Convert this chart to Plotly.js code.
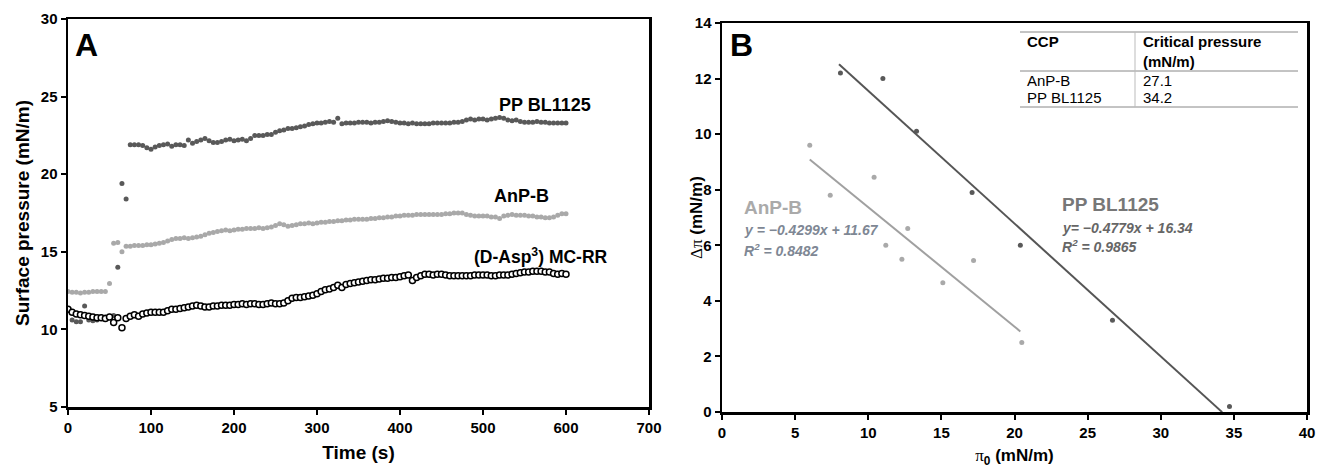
<!DOCTYPE html>
<html>
<head>
<meta charset="utf-8">
<script src="https://cdn.plot.ly/plotly-3.0.1.min.js"></script>
<style>html,body{margin:0;padding:0;background:#fff;}#chart{width:1323px;height:470px;}</style>
</head>
<body>
<div id="chart"></div>
<script>
// ---------- Panel A data ----------
var timeS = [
  0,5,10,15,20,25,30,35,40,45,
  50,55,60,65,70,75,80,85,90,95,
  100,105,110,115,120,125,130,135,140,145,
  150,155,160,165,170,175,180,185,190,195,
  200,205,210,215,220,225,230,235,240,245,
  250,255,260,265,270,275,280,285,290,295,
  300,305,310,315,320,325,330,335,340,345,
  350,355,360,365,370,375,380,385,390,395,
  400,405,410,415,420,425,430,435,440,445,
  450,455,460,465,470,475,480,485,490,495,
  500,505,510,515,520,525,530,535,540,545,
  550,555,560,565,570,575,580,585,590,595,
  600
];
var ppBL1125 = [
  11.3,10.6,10.5,10.5,11.5,10.6,10.55,10.6,10.8,10.8,
  10.85,10.9,14.0,19.4,18.4,21.9,21.9,21.9,21.85,21.7,
  21.6,21.75,21.85,21.9,21.95,21.8,21.9,21.9,21.85,22.2,
  22.0,22.1,22.2,22.3,22.15,22.05,22.05,22.1,22.2,22.25,
  22.15,22.2,22.25,22.15,22.3,22.5,22.5,22.5,22.55,22.55,
  22.7,22.8,22.85,22.95,22.95,23.0,23.05,23.1,23.2,23.25,
  23.3,23.3,23.35,23.4,23.35,23.6,23.25,23.3,23.3,23.3,
  23.35,23.35,23.35,23.3,23.35,23.35,23.4,23.45,23.4,23.35,
  23.3,23.3,23.25,23.3,23.25,23.25,23.25,23.25,23.3,23.3,
  23.3,23.3,23.3,23.35,23.35,23.4,23.5,23.55,23.5,23.55,
  23.55,23.5,23.55,23.6,23.65,23.6,23.5,23.45,23.5,23.4,
  23.35,23.35,23.35,23.4,23.35,23.35,23.3,23.3,23.3,23.3,
  23.3
];
var anpB = [
  12.45,12.4,12.4,12.35,12.4,12.4,12.45,12.45,12.45,12.45,
  12.95,15.55,15.6,15.0,15.35,15.35,15.4,15.4,15.4,15.45,
  15.45,15.5,15.55,15.6,15.7,15.8,15.85,15.85,15.9,15.85,
  15.9,15.95,16.0,16.1,16.2,16.25,16.3,16.35,16.4,16.35,
  16.4,16.45,16.45,16.5,16.5,16.5,16.55,16.5,16.55,16.6,
  16.7,16.8,16.75,16.65,16.7,16.75,16.8,16.8,16.85,16.8,
  16.85,16.9,16.9,16.95,16.95,17.0,17.0,17.05,17.05,17.1,
  17.1,17.1,17.1,17.15,17.15,17.2,17.2,17.25,17.25,17.3,
  17.3,17.35,17.35,17.35,17.4,17.4,17.4,17.4,17.4,17.4,
  17.4,17.45,17.45,17.5,17.5,17.5,17.4,17.35,17.3,17.3,
  17.3,17.3,17.25,17.25,17.15,17.3,17.35,17.4,17.35,17.35,
  17.35,17.3,17.3,17.25,17.25,17.2,17.2,17.25,17.35,17.45,
  17.45
];
var mcRR = [
  11.3,11.1,11.0,10.95,10.9,10.85,10.8,10.75,10.75,10.7,
  10.8,10.45,10.75,10.1,10.7,10.85,10.95,10.85,11.0,11.05,
  11.1,11.1,11.1,11.1,11.2,11.3,11.3,11.35,11.4,11.45,
  11.5,11.55,11.5,11.45,11.45,11.5,11.5,11.55,11.55,11.55,
  11.6,11.6,11.65,11.6,11.65,11.65,11.6,11.6,11.65,11.7,
  11.65,11.65,11.7,11.85,12.0,12.05,12.05,12.1,12.15,12.2,
  12.3,12.45,12.55,12.6,12.7,12.85,12.7,12.9,12.95,13.0,
  13.05,13.1,13.15,13.2,13.2,13.25,13.3,13.3,13.35,13.35,
  13.4,13.45,13.5,13.15,13.35,13.45,13.55,13.55,13.5,13.55,
  13.55,13.5,13.45,13.45,13.45,13.45,13.45,13.45,13.5,13.5,
  13.5,13.5,13.45,13.45,13.5,13.5,13.5,13.55,13.6,13.65,
  13.7,13.7,13.75,13.75,13.75,13.7,13.7,13.6,13.55,13.6,
  13.55
];
var seriesNamesA = ["PP BL1125", "AnP-B", "(D-Asp<sup>3</sup>) MC-RR"];
var xTicksA = [0,100,200,300,400,500,600,700];
var yTicksA = [5,10,15,20,25,30];

// ---------- Panel B data ----------
var pi0PP   = [8.1, 11.0, 13.3, 17.1, 20.4, 26.7, 34.7];
var dPiPP   = [12.2, 12.0, 10.1, 7.9, 6.0, 3.3, 0.2];
var pi0AnP  = [6.0, 7.4, 10.4, 12.7, 11.2, 12.3, 15.1, 17.2, 20.5];
var dPiAnP  = [9.6, 7.8, 8.45, 6.6, 6.0, 5.5, 4.65, 5.45, 2.5];
var fitAnP  = {slope: -0.4299, intercept: 11.67, xStart: 6.0, xEnd: 20.4};
var fitPP   = {slope: -0.4779, intercept: 16.34, xStart: 8.0, xEnd: 34.2};
var eqAnP   = ["y = \u22120.4299x + 11.67", "R<sup>2</sup> = 0.8482"];
var eqPP    = ["y= \u22120.4779x + 16.34", "R<sup>2</sup> = 0.9865"];
var tableHeader = ["CCP", "Critical pressure<br>(mN/m)"];
var tableCCP = ["AnP-B", "PP BL1125"];
var tableCritical = ["27.1", "34.2"];
var xTicksB = [0,5,10,15,20,25,30,35,40];
var yTicksB = [0,2,4,6,8,10,12,14];

// ---------- helpers ----------
var W = 1323, H = 470;
function px(x){ return x / W; }
function py(y){ return 1 - y / H; }
function fitLine(f){ return {x:[f.xStart, f.xEnd], y:[f.slope*f.xStart+f.intercept, f.slope*f.xEnd+f.intercept]}; }

var FONT = "Arial, 'Liberation Sans', sans-serif";
var darkGrey = "#595959", lightGrey = "#a9a9a9";

var traces = [
  {x: timeS, y: ppBL1125, type:"scatter", mode:"markers", xaxis:"x", yaxis:"y",
   marker:{size:5, color:darkGrey}, name:seriesNamesA[0]},
  {x: timeS, y: anpB, type:"scatter", mode:"markers", xaxis:"x", yaxis:"y",
   marker:{size:5, color:lightGrey}, name:seriesNamesA[1]},
  {x: timeS, y: mcRR, type:"scatter", mode:"markers", xaxis:"x", yaxis:"y",
   marker:{size:6, color:"#ffffff", symbol:"circle", line:{color:"#000000", width:1.5}}, name:seriesNamesA[2]},
  {x: pi0AnP, y: dPiAnP, type:"scatter", mode:"markers", xaxis:"x2", yaxis:"y2",
   marker:{size:5, color:lightGrey}, name:"AnP-B"},
  {x: pi0PP, y: dPiPP, type:"scatter", mode:"markers", xaxis:"x2", yaxis:"y2",
   marker:{size:5, color:darkGrey}, name:"PP BL1125"},
  Object.assign({type:"scatter", mode:"lines", xaxis:"x2", yaxis:"y2",
   line:{color:"#a0a0a0", width:2}, name:"AnP-B fit"}, fitLine(fitAnP)),
  Object.assign({type:"scatter", mode:"lines", xaxis:"x2", yaxis:"y2",
   line:{color:"#555555", width:2}, name:"PP BL1125 fit"}, fitLine(fitPP))
];

function axisCommon(){
  return {showline:true, linecolor:"#000", linewidth:2.5, mirror:true, ticks:"outside",
    ticklen:5, tickwidth:2, tickcolor:"#000", showgrid:false, zeroline:false,
    tickfont:{family:FONT, size:15, color:"#000", weight:"bold"}, fixedrange:true};
}

var xa = Object.assign(axisCommon(), {domain:[px(68), px(649)], range:[0,700], tickvals:xTicksA, anchor:"y",
  title:{text:"Time (s)", font:{family:FONT, size:19, color:"#000", weight:"bold"}, standoff:11}});
var ya = Object.assign(axisCommon(), {domain:[py(407), py(19)], range:[5,30], tickvals:yTicksA, anchor:"x",
  title:{text:"Surface pressure (mN/m)", font:{family:FONT, size:19, color:"#000", weight:"bold"}, standoff:6}});
var xb = Object.assign(axisCommon(), {domain:[px(722), px(1307)], range:[0,40], tickvals:xTicksB, anchor:"y2",
  title:{text:"<span style=\"font-family:'Liberation Serif',serif;font-weight:normal\">\u03c0</span><sub>0</sub> (mN/m)", font:{family:FONT, size:17, color:"#000", weight:"bold"}, standoff:10}});
var yb = Object.assign(axisCommon(), {domain:[py(412), py(23)], range:[0,14], tickvals:yTicksB, anchor:"x2"});

var ann = [];
// panel B y-axis title
ann.push({xref:"paper", yref:"paper", x:px(696), y:py(217), xanchor:"center", yanchor:"middle", textangle:-90, showarrow:false,
  text:"<span style=\"font-family:'Liberation Serif',serif;font-weight:normal\">\u0394\u03c0</span> (mN/m)",
  font:{family:FONT, size:17, color:"#000", weight:"bold"}});
// panel letters
ann.push({xref:"paper", yref:"paper", x:px(73), y:py(45), xanchor:"left", yanchor:"middle", showarrow:false,
  text:"A", font:{family:FONT, size:32, color:"#000", weight:"bold"}});
ann.push({xref:"paper", yref:"paper", x:px(728), y:py(45), xanchor:"left", yanchor:"middle", showarrow:false,
  text:"B", font:{family:FONT, size:32, color:"#000", weight:"bold"}});
// panel A series labels
ann.push({xref:"x", yref:"y", x:575, y:24.45, showarrow:false, text:seriesNamesA[0],
  font:{family:FONT, size:18, color:"#000", weight:"bold"}});
ann.push({xref:"x", yref:"y", x:546, y:18.6, showarrow:false, text:seriesNamesA[1],
  font:{family:FONT, size:18, color:"#000", weight:"bold"}});
ann.push({xref:"x", yref:"y", x:570, y:14.75, showarrow:false, text:seriesNamesA[2],
  font:{family:FONT, size:17.5, color:"#000", weight:"bold"}});
// panel B labels
ann.push({xref:"x2", yref:"y2", x:1.4, y:7.37, xanchor:"left", showarrow:false, text:"AnP-B",
  font:{family:FONT, size:19, color:"#aaaaaa", weight:"bold"}});
ann.push({xref:"x2", yref:"y2", x:1.4, y:6.55, xanchor:"left", showarrow:false, text:"<i>"+eqAnP[0]+"</i>",
  font:{family:FONT, size:14, color:"#7e8794", weight:"bold"}});
ann.push({xref:"x2", yref:"y2", x:1.4, y:5.83, xanchor:"left", showarrow:false, text:"<i>"+eqAnP[1]+"</i>",
  font:{family:FONT, size:14, color:"#7e8794", weight:"bold"}});
ann.push({xref:"x2", yref:"y2", x:23.1, y:7.48, xanchor:"left", showarrow:false, text:"PP BL1125",
  font:{family:FONT, size:19, color:"#777777", weight:"bold"}});
ann.push({xref:"x2", yref:"y2", x:23.1, y:6.62, xanchor:"left", showarrow:false, text:"<i>"+eqPP[0]+"</i>",
  font:{family:FONT, size:14, color:"#666666", weight:"bold"}});
ann.push({xref:"x2", yref:"y2", x:23.1, y:5.97, xanchor:"left", showarrow:false, text:"<i>"+eqPP[1]+"</i>",
  font:{family:FONT, size:14, color:"#666666", weight:"bold"}});

// table
var tL = 1020, tR = 1298, tMid = 1135, tTop = 32, tHead = 71, tBot = 107;
ann.push({xref:"paper", yref:"paper", x:px(tL+5), y:py(tTop-1), xanchor:"left", yanchor:"top", showarrow:false, align:"left",
  text:tableHeader[0], font:{family:FONT, size:15, color:"#000", weight:"bold"}});
ann.push({xref:"paper", yref:"paper", x:px(tMid+6), y:py(tTop-1), xanchor:"left", yanchor:"top", showarrow:false, align:"left",
  text:tableHeader[1], font:{family:FONT, size:15, color:"#000", weight:"bold"}});
for (var i = 0; i < tableCCP.length; i++) {
  var yy = tHead + 9 + i*18;
  ann.push({xref:"paper", yref:"paper", x:px(tL+5), y:py(yy), xanchor:"left", yanchor:"middle", showarrow:false,
    text:tableCCP[i], font:{family:FONT, size:15, color:"#000"}});
  ann.push({xref:"paper", yref:"paper", x:px(tMid+6), y:py(yy), xanchor:"left", yanchor:"middle", showarrow:false,
    text:tableCritical[i], font:{family:FONT, size:15, color:"#000"}});
}
var shapes = [
  {type:"line", xref:"paper", yref:"paper", x0:px(tL), x1:px(tR), y0:py(tTop), y1:py(tTop), line:{color:"#888", width:1}},
  {type:"line", xref:"paper", yref:"paper", x0:px(tL), x1:px(tR), y0:py(tHead), y1:py(tHead), line:{color:"#888", width:1}},
  {type:"line", xref:"paper", yref:"paper", x0:px(tL), x1:px(tR), y0:py(tBot), y1:py(tBot), line:{color:"#888", width:1}},
  {type:"line", xref:"paper", yref:"paper", x0:px(tMid), x1:px(tMid), y0:py(tTop), y1:py(tBot), line:{color:"#bbb", width:1}}
];

var layout = {
  width:W, height:H, autosize:false, margin:{l:0, r:0, t:0, b:0},
  paper_bgcolor:"#fff", plot_bgcolor:"#fff", showlegend:false,
  font:{family:FONT, color:"#000"},
  xaxis:xa, yaxis:ya, xaxis2:xb, yaxis2:yb,
  annotations:ann, shapes:shapes
};

Plotly.newPlot("chart", traces, layout, {displayModeBar:false, staticPlot:true});
</script>
</body>
</html>
